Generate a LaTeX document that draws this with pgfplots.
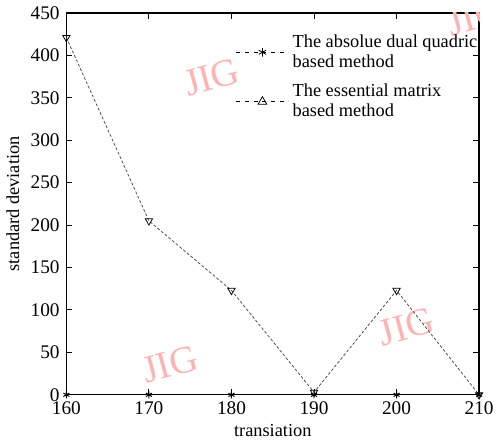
\documentclass[border=0pt]{standalone}
\usepackage{fontspec}
\setmainfont{Liberation Serif}
\usepackage{pgfplots}
\pgfplotsset{compat=1.18}
\tikzset{wm/.style={overlay, text=red!30, rotate=15, font=\fontsize{20}{20}\selectfont}}

\begin{document}
\begin{tikzpicture}
\begin{axis}[
    scale only axis,
    width=214pt, height=198pt,
    xmin=160, xmax=210,
    ymin=0, ymax=450,
    xtick={160,170,...,210},
    ytick={0,50,...,450},
    tick align=inside,
    tick style={black, line width=0.5pt},
    major tick length=3pt,
    axis line style={line width=0.7pt},
    /pgf/number format/assume math mode=true,
    ticklabel style={font=\fontsize{10}{10}\selectfont},
    xlabel={transiation},
    ylabel={standard deviation},
    label style={font=\fontsize{9.5}{10}\selectfont},
    xlabel style={yshift=2pt},
    ylabel style={yshift=-1pt},
    legend style={at={(rel axis cs:0.41,0.955)}, anchor=north west, draw=none,
        fill=none, font=\fontsize{9.5}{10.5}\selectfont,
        cells={align=left}, row sep=3pt, inner sep=0pt},
    legend cell align=left,
    legend image code/.code={
        \draw[#1, mark=none] (0pt,0pt) -- (27pt,0pt);
        \draw[#1, only marks] plot coordinates {(13.5pt,0pt)};
    },
]
% watermarks
\node[wm] at (rel axis cs:0.352,0.832) {JIG};
\node[wm] at (rel axis cs:0.251,0.081) {JIG};
\node[wm] at (rel axis cs:0.824,0.178) {JIG};
\node[wm] at (rel axis cs:0.99,0.99) {JIG};
\node[wm] at (rel axis cs:-0.16,0.75) {JIG};
\addplot[black, dash pattern=on 2pt off 1.5pt, line width=0.5pt, mark=asterisk,
    mark options={solid, scale=0.9}, forget plot] coordinates {
  (160,0) (170,0) (180,0) (190,0) (200,0) (210,0)
};
\addplot[black!70, dash pattern=on 1.5pt off 1pt, line width=0.4pt, mark=triangle,
    mark options={solid, rotate=180, scale=1.1, black}, forget plot] coordinates {
  (160,421) (170,205) (180,123) (190,3) (200,123) (210,0)
};
\addlegendimage{black, dash pattern=on 2pt off 2.5pt, line width=0.4pt, mark=asterisk, mark options={solid, scale=1.1}}
\addlegendentry{The absolue dual quadric\\based method}
\addlegendimage{black, dash pattern=on 2pt off 2.5pt, line width=0.4pt, mark=triangle, mark options={solid, scale=1.3}}
\addlegendentry{The essential matrix\\based method}
\end{axis}
\end{tikzpicture}
\end{document}
